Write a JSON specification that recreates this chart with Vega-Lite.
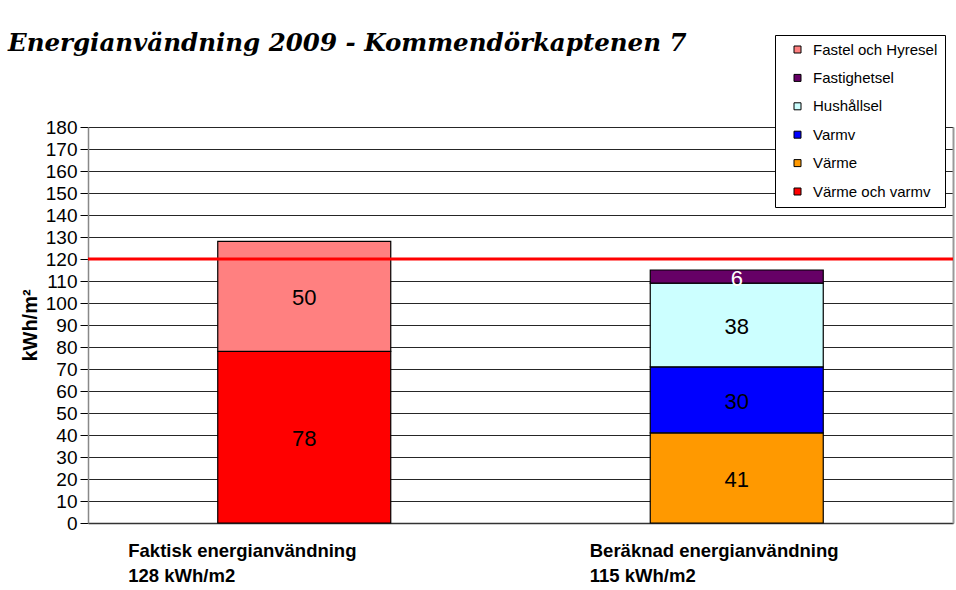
{
  "$schema": "https://vega.github.io/schema/vega-lite/v6.json",
  "autosize": {"type": "none"},
  "width": 865,
  "height": 396,
  "padding": {"left": 88, "top": 127, "right": 3, "bottom": 67},
  "background": "white",
  "title": {
    "text": "Energianvändning 2009 - Kommendörkaptenen 7",
    "anchor": "start",
    "frame": "group",
    "font": "DejaVu Serif",
    "fontSize": 24.5,
    "fontWeight": "bold",
    "fontStyle": "italic",
    "color": "black",
    "dx": -80,
    "dy": 22,
    "offset": 0
  },
  "config": {
    "view": {"stroke": null},
    "font": "Liberation Sans",
    "axisX": {
      "title": null,
      "labelAngle": 0,
      "labelExpr": "split(datum.label, '\\n')",
      "labelAlign": "left",
      "labelBaseline": "alphabetic",
      "labelOffset": {"expr": "indexof(datum.label, 'Faktisk') >= 0 ? -176 : -147"},
      "labelFont": "Liberation Sans",
      "labelFontSize": 18.5,
      "labelFontWeight": "bold",
      "labelColor": "black",
      "labelLineHeight": 25,
      "labelPadding": 33,
      "labelLimit": 0,
      "labelOverlap": false,
      "ticks": false,
      "domainColor": "#333333",
      "domainWidth": 1.5
    },
    "axisY": {
      "titleFont": "Liberation Sans",
      "titleFontSize": 20,
      "titleFontWeight": "bold",
      "titleColor": "black",
      "titleX": -58,
      "titleY": 198,
      "titleAngle": -90,
      "titleAlign": "center",
      "titleBaseline": "middle",
      "labelOverlap": false,
      "labelFont": "Liberation Sans",
      "labelFontSize": 19,
      "labelColor": "black",
      "labelPadding": 3,
      "tickSize": 8,
      "tickColor": "black",
      "domainColor": "#888888",
      "domainWidth": 1.5,
      "grid": true,
      "gridColor": "black",
      "gridWidth": 1,
      "gridOpacity": 0.85
    }
  },
  "datasets": {
    "energi": [
      {"kategori": "Faktisk energianvändning\n128 kWh/m2", "typ": "Värme och varmv", "varde": 78},
      {"kategori": "Faktisk energianvändning\n128 kWh/m2", "typ": "Fastel och Hyresel", "varde": 50},
      {"kategori": "Beräknad energianvändning\n115 kWh/m2", "typ": "Värme", "varde": 41},
      {"kategori": "Beräknad energianvändning\n115 kWh/m2", "typ": "Varmv", "varde": 30},
      {"kategori": "Beräknad energianvändning\n115 kWh/m2", "typ": "Hushållsel", "varde": 38},
      {"kategori": "Beräknad energianvändning\n115 kWh/m2", "typ": "Fastighetsel", "varde": 6}
    ],
    "grans": [{"grans": 120}]
  },
  "resolve": {"axis": {"y": "independent"}},
  "layer": [
    {
      "layer": [
        {
          "data": {"name": "energi"},
          "transform": [
            {"calculate": "indexof(['Värme och varmv','Värme','Varmv','Hushållsel','Fastighetsel','Fastel och Hyresel'], datum.typ)", "as": "ord"},
            {"stack": "varde", "groupby": ["kategori"], "sort": [{"field": "ord", "order": "ascending"}], "as": ["y0", "y1"]}
          ],
          "mark": {"type": "bar", "stroke": "black", "strokeWidth": 1.2},
          "encoding": {
            "x": {
              "field": "kategori", "type": "nominal", "sort": null,
              "scale": {"paddingInner": 0.6, "paddingOuter": 0.3},
              "axis": {"title": null}
            },
            "y": {
              "field": "y0", "type": "quantitative",
              "scale": {"domain": [0, 180], "nice": false},
              "axis": {"title": "kWh/m²", "tickCount": 18}
            },
            "y2": {"field": "y1"},
            "color": {
              "field": "typ", "type": "nominal",
              "scale": {
                "domain": ["Fastel och Hyresel", "Fastighetsel", "Hushållsel", "Varmv", "Värme", "Värme och varmv"],
                "range": ["#FF8080", "#660066", "#CCFFFF", "#0000FF", "#FF9900", "#FF0000"]
              },
              "legend": {
                "title": null,
                "orient": "none",
                "legendX": 687,
                "legendY": -92,
                "symbolType": "square",
                "symbolSize": 49,
                "symbolStrokeColor": "black",
                "symbolStrokeWidth": 1,
                "symbolOpacity": 1,
                "symbolOffset": 8,
                "labelOffset": 8,
                "labelFont": "Liberation Sans",
                "labelFontSize": 15,
                "labelColor": "black",
                "rowPadding": 12.4,
                "padding": 7,
                "strokeColor": "black",
                "fillColor": "white",
                "offset": 0
              }
            }
          }
        },
        {
          "data": {"name": "energi"},
          "transform": [
            {"calculate": "indexof(['Värme och varmv','Värme','Varmv','Hushållsel','Fastighetsel','Fastel och Hyresel'], datum.typ)", "as": "ord"},
            {"stack": "varde", "groupby": ["kategori"], "sort": [{"field": "ord", "order": "ascending"}], "as": ["y0", "y1"]},
            {"calculate": "(datum.y0 + datum.y1) / 2", "as": "mitt"}
          ],
          "mark": {"type": "text", "font": "Liberation Sans", "fontSize": 22, "baseline": "middle", "dy": 2},
          "encoding": {
            "x": {"field": "kategori", "type": "nominal", "sort": null, "axis": {"title": null}},
            "y": {"field": "mitt", "type": "quantitative", "axis": {"title": "kWh/m²", "tickCount": 18}},
            "text": {"field": "varde", "type": "quantitative"},
            "color": {
              "condition": {"test": "datum.typ == 'Fastighetsel'", "value": "white"},
              "value": "black"
            }
          }
        }
      ]
    },
    {
      "data": {"name": "grans"},
      "mark": {"type": "rule", "color": "#FF0000", "strokeWidth": 3},
      "encoding": {
        "y": {
          "field": "grans", "type": "quantitative",
          "axis": {"orient": "right", "title": null, "labels": false, "ticks": false, "grid": false, "domainColor": "#999999", "domainWidth": 2}
        }
      }
    }
  ]
}
